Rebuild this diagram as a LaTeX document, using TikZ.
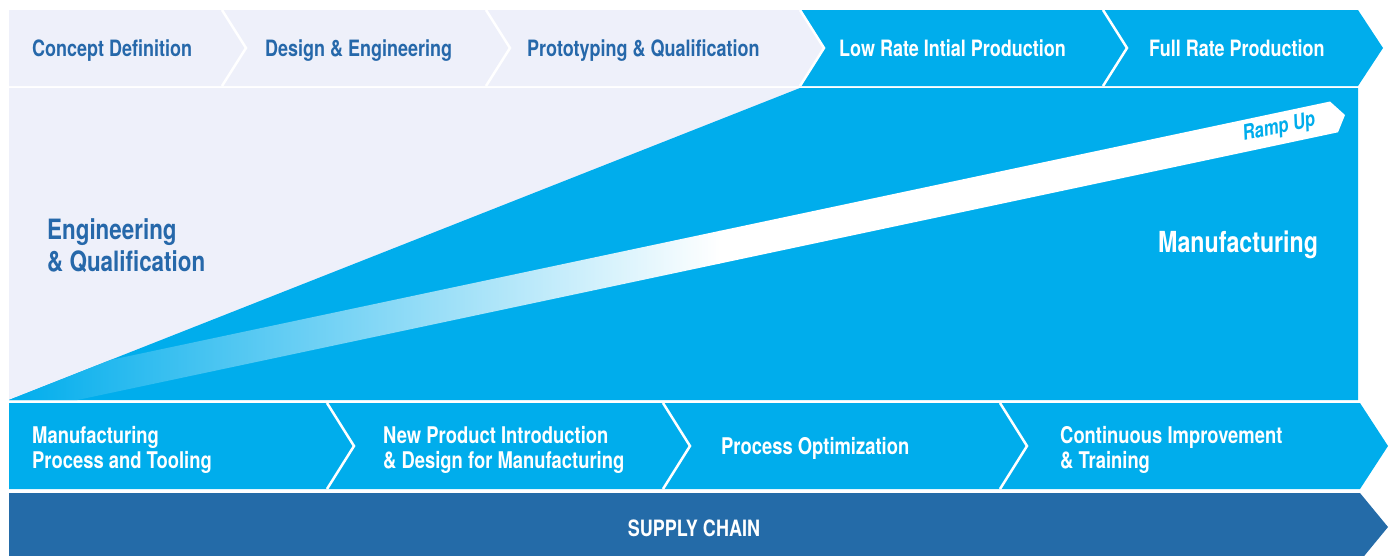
\documentclass[tikz,border=0pt]{standalone}
\usepackage{fontspec}
\setmainfont{TeX Gyre Heros}[FakeStretch=0.8]
\usepackage{tikz}
\usetikzlibrary{positioning}
\definecolor{paleblue}{RGB}{238,240,250}
\definecolor{skyblue}{RGB}{0,173,236}
\definecolor{deepblue}{RGB}{36,107,168}
\definecolor{inkblue}{RGB}{38,104,170}

\begin{document}
\begin{tikzpicture}[x=1pt, y=-1pt,
	sep/.style={white, line width=2.5pt},
	phase/.style={anchor=base west, inner sep=0pt, font=\bfseries\fontsize{22.5}{22.5}\selectfont},
	area/.style={anchor=west, inner sep=0pt, align=left, font=\bfseries\fontsize{28}{32}\selectfont},
	task/.style={anchor=west, inner sep=0pt, align=left, text=white, font=\bfseries\fontsize{23}{25}\selectfont}]

\def \xl{9}     % left edge
\def \xr{1358}  % right edge of panel
\def \xs{800}   % start of manufacturing

\useasboundingbox (0,0) rectangle (1391,555);
\clip (0,0) rectangle (1391,555);

% top row of phases
\fill[paleblue] (\xl,10) -- (\xs,10) -- (\xs+24,48) -- (\xs,86) -- (\xl,86) -- cycle;
\fill[skyblue] (\xs,10) -- (\xr,10) -- (\xr+25,48) -- (\xr,86) -- (\xs,86) -- (\xs+24,48) -- cycle;
\foreach \x in {222, 486, 800, 1103} {
	\draw[sep] (\x,10) -- (\x+24,48) -- (\x,86); % phase border
}

% main panel
\fill[paleblue] (\xl,88) rectangle (\xr,400);
\fill[skyblue] (\xl,400) -- (\xs,88) -- (\xr,88) -- (\xr,400) -- cycle;

% ramp up band
\begin{scope}
	\clip (\xl,400) -- (\xs,88) -- (\xr,88) -- (\xr,400) -- cycle;
	\clip (0,383.4) -- (1330,101.5) -- (1345,115) -- (1338,132.3) -- (0,416.4) -- cycle;
	\shade[left color=skyblue, right color=white] (\xl,90) rectangle (720,420);
	\fill[white] (719,90) rectangle (1350,420);
\end{scope}

% bottom rows
\fill[skyblue] (\xl,403) -- (1360,403) -- (1388,446) -- (1360,489) -- (\xl,489) -- cycle;
\foreach \x in {327, 663, 1000} {
	\draw[sep] (\x,403) -- (\x+27,446) -- (\x,489); % task border
}
\fill[deepblue] (\xl,493) -- (1360,493) -- (1388,527) -- (1360,561) -- (\xl,561) -- cycle;

% labels
\node[phase, text=inkblue] (concept) at (32,56) {Concept Definition};
\node[phase, text=inkblue] (design) at (265,56) {Design \& Engineering};
\node[phase, text=inkblue] (proto) at (527,56) {Prototyping \& Qualification};
\node[phase, text=white] (lrip) at (839,56) {Low Rate Intial Production};
\node[phase, text=white] (frp) at (1149,56) {Full Rate Production};

\node[area, text=inkblue] (eng) at (47,246) {Engineering\\\& Qualification};
\node[area, text=white, font=\bfseries\fontsize{29}{32}\selectfont] (manu) at (1158,245) {Manufacturing};
\node[inner sep=0pt, rotate=12, text=skyblue, font=\bfseries\itshape\fontsize{21}{21}\selectfont] (ramp) at (1279,128) {Ramp Up};

\node[task] (tooling) at (32,450) {Manufacturing\\Process and Tooling};
\node[task] (npi) at (383,450) {New Product Introduction\\\& Design for Manufacturing};
\node[task] (optim) at (721,448) {Process Optimization};
\node[task] (improve) at (1060,450) {Continuous Improvement\\\& Training};

\node[inner sep=0pt, text=white, font=\bfseries\fontsize{22.5}{22.5}\selectfont] (supply) at (694,528) {SUPPLY CHAIN};

\end{tikzpicture}
\end{document}
